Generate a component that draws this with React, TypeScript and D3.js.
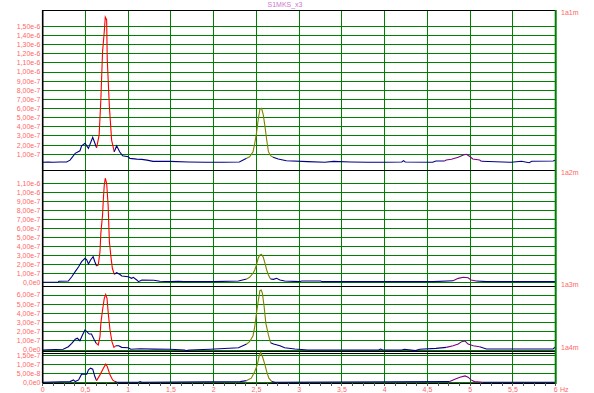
import React from 'react';
import * as d3 from 'd3';

// ---------- data ----------
const TITLE = 'S1MKS_x3';
const FREQ_TICKS = [0, 0.5, 1, 1.5, 2, 2.5, 3, 3.5, 4, 4.5, 5, 5.5, 6];
const FREQ_TICK_LABELS = ['0', '0,5', '1', '1,5', '2', '2,5', '3', '3,5', '4', '4,5', '5', '5,5', '6'];
const PANEL_NAMES = ['1a1m', '1a2m', '1a3m', '1a4m'];

// panel 1 (values ×1e-7)
const P1_FREQ = [0, 0.06, 0.12, 0.2, 0.28, 0.32, 0.38, 0.436, 0.455, 0.495, 0.535, 0.585, 0.63, 0.66, 0.68, 0.70, 0.72, 0.732, 0.748, 0.755, 0.78, 0.806, 0.837, 0.865, 0.9, 0.935, 1.0, 1.02, 1.1, 1.16, 1.22, 1.29, 1.49, 1.7, 1.9, 2.1, 2.3, 2.385, 2.42, 2.46, 2.48, 2.50, 2.52, 2.54, 2.56, 2.58, 2.60, 2.62, 2.64, 2.665, 2.695, 2.755, 2.85, 3.1, 3.3, 3.4, 3.6, 3.8, 4.0, 4.2, 4.22, 4.24, 4.56, 4.6, 4.7, 4.72, 4.78, 4.86, 4.92, 4.955, 5.0, 5.03, 5.11, 5.13, 5.48, 5.6, 5.69, 5.72, 5.97, 6.0];
const P1_VAL = [0.12, 0.15, 0.12, 0.15, 0.15, 0.36, 1.1, 1.38, 1.93, 2.19, 1.64, 2.85, 1.71, 3.1, 6.93, 12.2, 14.4, 16.0, 15.7, 11.4, 6.2, 2.55, 1.27, 1.93, 1.27, 0.83, 0.72, 0.55, 0.47, 0.44, 0.36, 0.22, 0.22, 0.15, 0.12, 0.12, 0.15, 0.56, 0.73, 1.28, 2.2, 3.29, 4.75, 5.92, 6.03, 5.3, 4.03, 2.56, 1.28, 0.84, 0.67, 0.48, 0.29, 0.19, 0.12, 0.22, 0.15, 0.12, 0.12, 0.15, 0.3, 0.15, 0.12, 0.26, 0.26, 0.37, 0.45, 0.67, 0.92, 1.0, 0.73, 0.48, 0.37, 0.23, 0.12, 0.23, 0.08, 0.23, 0.26, 0.37];
const P1_TICKS = [1, 2, 3, 4, 5, 6, 7, 8, 9, 10, 11, 12, 13, 14, 15];
const P1_TICK_LABELS = ['1,00e-7', '2,00e-7', '3,00e-7', '4,00e-7', '5,00e-7', '6,00e-7', '7,00e-7', '8,00e-7', '9,00e-7', '1,00e-6', '1,10e-6', '1,20e-6', '1,30e-6', '1,40e-6', '1,50e-6'];

// panel 2 (values ×1e-7)
const P2_FREQ = [0, 0.18, 0.19, 0.30, 0.34, 0.38, 0.42, 0.455, 0.495, 0.515, 0.535, 0.56, 0.59, 0.61, 0.63, 0.65, 0.67, 0.68, 0.70, 0.71, 0.72, 0.732, 0.748, 0.765, 0.78, 0.80, 0.815, 0.837, 0.865, 0.9, 0.925, 1.0, 1.04, 1.06, 1.1, 1.12, 1.16, 1.3, 1.37, 1.5, 1.585, 1.65, 2.0, 2.29, 2.385, 2.42, 2.46, 2.48, 2.50, 2.52, 2.54, 2.56, 2.58, 2.60, 2.62, 2.64, 2.665, 2.70, 2.735, 2.775, 2.83, 3.0, 3.03, 3.25, 3.27, 4.57, 4.8, 4.86, 4.92, 4.975, 5.01, 5.07, 5.19, 6.0];
const P2_VAL = [0, 0, 0.11, 0.14, 0.62, 1.18, 1.73, 2.29, 2.67, 2.5, 2.03, 2.48, 2.84, 2.29, 1.81, 1.92, 3.4, 5.44, 7.48, 9.33, 10.8, 11.56, 11.0, 8.59, 4.51, 2.67, 1.56, 0.89, 1.07, 0.89, 0.7, 0.62, 0.44, 0.55, 0.26, 0.07, 0.26, 0.22, 0.11, 0.07, 0.11, 0.07, 0.07, 0.14, 0.37, 0.56, 1.0, 1.37, 1.92, 2.67, 3.03, 3.1, 2.78, 2.11, 1.37, 0.81, 0.37, 0.33, 0.44, 0.26, 0.14, 0.07, 0.14, 0.14, 0.07, 0.07, 0.18, 0.44, 0.56, 0.51, 0.26, 0.14, 0.07, 0.07];
const P2_TICKS = [0, 1, 2, 3, 4, 5, 6, 7, 8, 9, 10, 11];
const P2_TICK_LABELS = ['0,0e0', '1,00e-7', '2,00e-7', '3,00e-7', '4,00e-7', '5,00e-7', '6,00e-7', '7,00e-7', '8,00e-7', '9,00e-7', '1,00e-6', '1,10e-6'];

// panel 3 (values ×1e-7)
const P3_FREQ = [0, 0.06, 0.24, 0.30, 0.34, 0.38, 0.405, 0.435, 0.465, 0.495, 0.515, 0.545, 0.57, 0.60, 0.625, 0.65, 0.67, 0.68, 0.70, 0.72, 0.737, 0.752, 0.767, 0.787, 0.81, 0.833, 0.857, 0.89, 0.923, 1.0, 1.03, 1.14, 1.3, 1.49, 1.66, 1.68, 1.72, 1.96, 2.29, 2.385, 2.42, 2.46, 2.48, 2.50, 2.52, 2.54, 2.555, 2.57, 2.59, 2.61, 2.64, 2.665, 2.70, 2.775, 2.83, 2.95, 3.1, 3.93, 3.95, 3.98, 4.2, 4.23, 4.36, 4.41, 4.6, 4.72, 4.8, 4.86, 4.9, 4.94, 4.975, 5.035, 5.11, 5.19, 5.97, 6.0];
const P3_VAL = [0, 0.03, 0.08, 0.36, 0.73, 1.17, 1.28, 1.01, 1.64, 2.18, 2.0, 1.74, 1.74, 1.17, 0.73, 0.55, 1.45, 2.91, 4.36, 5.64, 6.07, 5.64, 4.0, 2.18, 0.91, 0.29, 0.47, 0.47, 0.29, 0.25, 0.08, 0.14, 0.1, 0.08, 0, -0.07, 0, 0.08, 0.25, 0.65, 0.91, 1.56, 2.54, 4.0, 5.27, 6.47, 6.54, 6.18, 4.72, 2.91, 1.64, 0.8, 0.65, 0.47, 0.25, 0.11, 0, 0, 0.1, 0, 0, 0.08, -0.07, 0.08, 0.18, 0.29, 0.47, 0.65, 0.91, 0.98, 0.65, 0.47, 0.36, 0.11, 0.11, 0.36];
const P3_TICKS = [0, 1, 2, 3, 4, 5, 6];
const P3_TICK_LABELS = ['0,0e0', '1,00e-7', '2,00e-7', '3,00e-7', '4,00e-7', '5,00e-7', '6,00e-7'];

// panel 4 (values ×1e-8)
const P4_FREQ = [0, 0.32, 0.36, 0.38, 0.42, 0.455, 0.495, 0.515, 0.535, 0.56, 0.585, 0.61, 0.63, 0.67, 0.71, 0.737, 0.755, 0.787, 0.818, 0.845, 0.87, 1.12, 1.14, 1.16, 2.31, 2.385, 2.44, 2.48, 2.51, 2.53, 2.55, 2.57, 2.60, 2.62, 2.645, 2.68, 2.72, 4.76, 4.82, 4.88, 4.94, 4.975, 5.01, 5.05, 5.15, 6.0];
const P4_VAL = [0.2, 0.56, 1.52, 0.56, 1.52, 4.72, 4.72, 4.72, 7.13, 8.09, 7.53, 3.37, 1.12, 4.33, 8.09, 10.34, 8.99, 4.33, 1.52, 0.56, 0.2, 0.2, 0.56, 0.2, 0.56, 1.12, 2.47, 6.18, 9.94, 14.6, 16.85, 14.6, 9.94, 6.18, 2.47, 0.56, 0.2, 0.56, 1.91, 3.03, 3.76, 3.03, 1.52, 0.56, 0.2, 0.2];
const P4_TICKS = [0, 5, 10, 15];
const P4_TICK_LABELS = ['0,0e0', '5,00e-8', '1,00e-7', '1,50e-7'];

// frequency bands highlighted in colour
const BAND_LIMITS = [[0.625, 0.845], [2.38, 2.68], [4.7, 5.12]];
const BAND_COLORS = ['#ff0000', '#808000', '#800080'];
const BASE_COLOR = '#000080';

// ---------- layout ----------
const W = 594;
const H = 393;
const X0 = 42.7;
const X1 = 555.7;
const PANELS = [
  { freq: P1_FREQ, val: P1_VAL, ticks: P1_TICKS, labels: P1_TICK_LABELS, zeroY: 163.4, topTickY: 26.3, name: PANEL_NAMES[0], nameY: 13 },
  { freq: P2_FREQ, val: P2_VAL, ticks: P2_TICKS, labels: P2_TICK_LABELS, zeroY: 282.3, topTickY: 183.3, name: PANEL_NAMES[1], nameY: 173 },
  { freq: P3_FREQ, val: P3_VAL, ticks: P3_TICKS, labels: P3_TICK_LABELS, zeroY: 350, topTickY: 295, name: PANEL_NAMES[2], nameY: 285 },
  { freq: P4_FREQ, val: P4_VAL, ticks: P4_TICKS, labels: P4_TICK_LABELS, zeroY: 382.6, topTickY: 355.8, name: PANEL_NAMES[3], nameY: 348 },
];
const SEPARATORS = [10, 170, 286.5, 351.5, 353.5, 383];

const GREEN = '#008000';
const LABEL = '#ff6666';

function colorFor(f: number) {
  for (let i = 0; i < BAND_LIMITS.length; i++) {
    if (f >= BAND_LIMITS[i][0] && f <= BAND_LIMITS[i][1]) return BAND_COLORS[i];
  }
  return BASE_COLOR;
}

function segments(freq: number[], val: number[]) {
  const segs: { color: string; pts: [number, number][] }[] = [];
  for (let i = 0; i < freq.length - 1; i++) {
    const c = colorFor((freq[i] + freq[i + 1]) / 2);
    const last = segs[segs.length - 1];
    if (last && last.color === c) {
      last.pts.push([freq[i + 1], val[i + 1]]);
    } else {
      segs.push({ color: c, pts: [[freq[i], val[i]], [freq[i + 1], val[i + 1]]] });
    }
  }
  return segs;
}

export default function App() {
  const x = d3.scaleLinear().domain([0, 6]).range([X0, X1]);
  const minor = d3.range(0, 6.0001, 0.125);
  const font = "'Liberation Sans', Arial, sans-serif";

  return (
    <svg width={W} height={H} style={{ position: 'fixed', left: 0, top: 0, background: '#fff' }} fontFamily={font}>
      <rect x={0} y={0} width={W} height={H} fill="#fff" />
      <text x={285} y={7} textAnchor="middle" fontSize={7} fill="#cc77cc">{TITLE}</text>

      {PANELS.map((p, pi) => {
        const top = p.ticks[p.ticks.length - 1];
        const y = d3.scaleLinear().domain([0, top]).range([p.zeroY, p.topTickY]);
        return (
          <g key={'grid' + pi}>
            {p.ticks.map((t, i) => (
              <g key={i}>
                <line x1={X0} x2={X1} y1={y(t)} y2={y(t)} stroke={GREEN} strokeWidth={1} shapeRendering="crispEdges" />
                <text x={40.5} y={y(t)} dy="0.35em" textAnchor="end" fontSize={7} fill={LABEL}>{p.labels[i]}</text>
              </g>
            ))}
          </g>
        );
      })}

      {FREQ_TICKS.filter((f) => f > 0 && f < 6).map((f) => (
        <line key={'v' + f} x1={x(f)} x2={x(f)} y1={10} y2={383} stroke={GREEN} strokeWidth={1} shapeRendering="crispEdges" />
      ))}

      {SEPARATORS.map((s, i) => (
        <line key={'s' + i} x1={X0} x2={X1} y1={s} y2={s} stroke="#000" strokeWidth={1} shapeRendering="crispEdges" />
      ))}

      {PANELS.map((p, pi) => {
        const top = p.ticks[p.ticks.length - 1];
        const y = d3.scaleLinear().domain([0, top]).range([p.zeroY, p.topTickY]);
        const line = d3.line<[number, number]>().x((d) => x(d[0])).y((d) => y(d[1]));
        return (
          <g key={'trace' + pi}>
            {segments(p.freq, p.val).map((s, i) => (
              <path key={i} d={line(s.pts) || ''} fill="none" stroke={s.color} strokeWidth={1.1} />
            ))}
            <text x={561} y={p.nameY} dy="0.35em" fontSize={7} fill={LABEL}>{p.name}</text>
          </g>
        );
      })}

      <line x1={X0} x2={X0} y1={10} y2={383} stroke="#000" strokeWidth={1.6} />
      <line x1={X1} x2={X1} y1={10} y2={384} stroke={GREEN} strokeWidth={2} />

      {minor.map((f, i) => (
        <line key={'m' + i} x1={x(f)} x2={x(f)} y1={383} y2={386} stroke="#555" strokeWidth={1} shapeRendering="crispEdges" />
      ))}
      {FREQ_TICKS.map((f, i) => (
        <text key={'xl' + i} x={x(f)} y={392} textAnchor="middle" fontSize={7} fill={LABEL}>{FREQ_TICK_LABELS[i]}</text>
      ))}
      <text x={560} y={392} fontSize={7} fill={LABEL}>Hz</text>
    </svg>
  );
}
